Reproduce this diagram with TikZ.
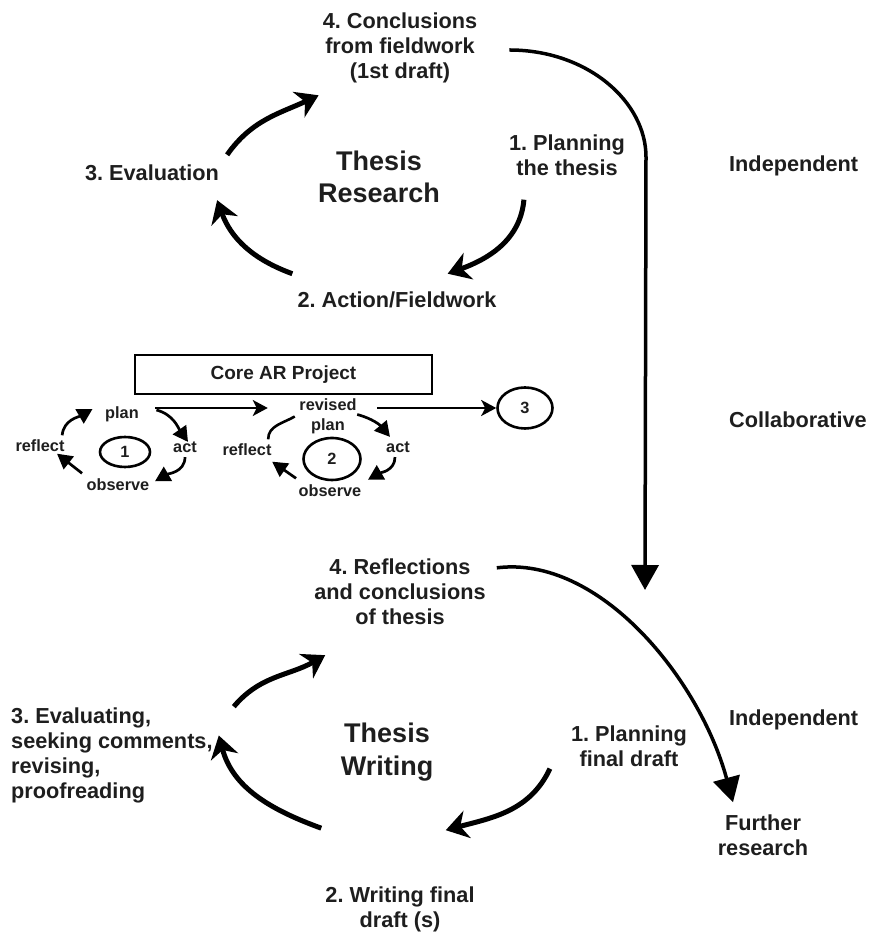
\documentclass[tikz,border=0pt]{standalone}
\usepackage{fontspec}
\setmainfont{Liberation Sans}
\usetikzlibrary{arrows.meta,shapes.geometric}
\definecolor{ink}{HTML}{1E1E1E}
\frenchspacing
\tikzset{
  lbl/.style={font=\fontsize{21.7}{25}\selectfont\bfseries,text=ink,align=center,inner sep=1pt},
  ttl/.style={font=\fontsize{27}{32}\selectfont\bfseries,text=ink,align=center,inner sep=1pt},
  sml/.style={font=\fontsize{16.3}{20}\selectfont\bfseries,text=ink,align=center,inner sep=0.5pt},
  loopno/.style={sml,draw=black,ellipse,line width=2.6pt,inner sep=0pt},
  bigarr/.style={line width=5pt,-{Stealth[length=22pt,width=28pt,inset=7pt]}},
  longarr/.style={line width=3.5pt,-{Triangle[length=25pt,width=27pt]}},
  smlarr/.style={line width=2.7pt,-{Triangle[length=15pt,width=16pt]}},
  strarr/.style={line width=2.4pt,-{Stealth[length=15pt,width=16pt,inset=4pt]}}
}
\begin{document}
\begin{tikzpicture}[x=1pt,y=1pt]
  \useasboundingbox (0,0) rectangle (868,932);
  % thesis research
  \node[lbl](R4) at (400,884){4. Conclusions\\from fieldwork\\(1st draft)};
  \node[lbl](R1) at (567,777){1. Planning\\the thesis};
  \node[ttl](RT) at (379,755){Thesis\\Research};
  \node[lbl](R3) at (152,759){3. Evaluation};
  \node[lbl](R2) at (397,632){2. Action/Fieldwork};
  \node[lbl,anchor=west](I1) at (728,766){Independent};
  \node[lbl,anchor=west](CO) at (728,512){Collaborative};
  \node[lbl,anchor=west](I2) at (728,212){Independent};
  \draw[bigarr]([shift={(7,9)}]R3.north east) to[out=55,in=205]([shift={(-3,-11)}]R4.south west);
  \draw[bigarr]([shift={(-4,17)}]R2.north west) to[out=160,in=-70]([shift={(-3,-18)}]R3.south east);
  \draw[bigarr]([shift={(16,-23)}]R1.south west) to[out=-95,in=20]([shift={(-50,17)}]R2.north east);
  \coordinate(D) at (645,342);
  \draw[longarr]([shift={(31,-2)}]R4.east) .. controls (588,882) and (646,830) .. (646,775) -- (D);
  % core AR project
  \node[sml,draw=black,line width=2.5pt,minimum width=297pt,minimum height=39pt,
    font=\fontsize{19}{22}\selectfont\bfseries](AR) at (283.5,557.5){Core AR Project};
  \node[sml](p1) at (122,518){plan};
  \node[sml](a1) at (185,485){act};
  \node[sml](o1) at (118,447){observe};
  \node[sml](r1) at (40,486){reflect};
  \node[loopno,minimum width=50pt,minimum height=30pt](c1) at (125,480){1};
  \node[sml](p2) at (328,515.5){revised\\plan};
  \node[sml](a2) at (398,485){act};
  \node[sml](o2) at (330,441){observe};
  \node[sml](r2) at (247,482){reflect};
  \node[loopno,minimum width=57pt,minimum height=42pt](c2) at (332,473){2};
  \node[loopno,minimum width=55pt,minimum height=41pt](c3) at (525,524){3};
  \draw[smlarr]([shift={(-3,4)}]r1.north east) to[out=85,in=210]([shift={(-12,5)}]p1.west);
  \draw[smlarr]([shift={(17,4)}]p1.east) to[out=-15,in=125]([shift={(3,-1)}]a1.north);
  \draw[smlarr]([shift={(0,-4)}]a1.south) to[out=-90,in=30]([shift={(5,-3)}]o1.north east);
  \draw[smlarr]([shift={(-4,5)}]o1.north west) --([shift={(17,-1)}]r1.south);
  \draw[strarr]([shift={(16,6)}]p1.east) --([shift={(-31,8.5)}]p2.west);
  \draw[line width=2.6pt]([shift={(-4,4)}]r2.north east) to[out=90,in=210]([shift={(-4,0)}]p2.west);
  \draw[smlarr]([shift={(0,2)}]p2.east) to[out=-15,in=130]([shift={(-8,4)}]a2.north);
  \draw[smlarr]([shift={(-3,-4)}]a2.south) to[out=-90,in=30]([shift={(6,4.5)}]o2.north east);
  \draw[smlarr]([shift={(-2,6)}]o2.north west) --([shift={(0,-5)}]r2.south east);
  \draw[strarr]([shift={(20,8.5)}]p2.east) --(c3.west);
  % thesis writing
  \node[lbl](W4) at (400,340){4. Reflections\\and conclusions\\of thesis};
  \node[ttl,font=\fontsize{27}{33}\selectfont\bfseries](WT) at (387,180){Thesis\\Writing};
  \node[lbl,anchor=west,align=left](W3) at (10,176.5){3. Evaluating,\\seeking comments,\\revising,\\proofreading};
  \node[lbl](W1) at (629,186){1. Planning\\final draft};
  \node[lbl](W2) at (400,23){2. Writing final\\draft (s)};
  \node[lbl](FR) at (763,97){Further\\research};
  \draw[bigarr]([shift={(20,0)}]W3.north east) to[out=50,in=210]([shift={(12,-29)}]W4.south west);
  \draw[bigarr]([shift={(-3,57)}]W2.north west) to[out=160,in=-75]([shift={(5,20)}]W3.east);
  \draw[bigarr]([shift={(-20,-1)}]W1.south west) to[out=-115,in=15]([shift={(-30,55)}]W2.north east);
  \draw[longarr]([shift={(10,-10)}]W4.north east) .. controls (600,377) and (700,252) .. ([shift={(-30,11)}]FR.north);
\end{tikzpicture}
\end{document}
